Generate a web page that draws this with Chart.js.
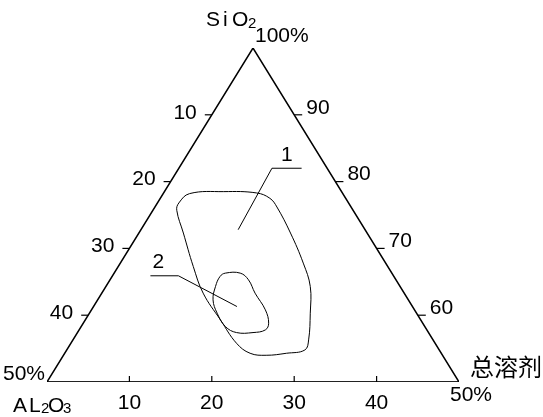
<!DOCTYPE html>
<html>
<head>
<meta charset="utf-8">
<script src="https://cdn.jsdelivr.net/npm/chart.js@4.4.0/dist/chart.umd.min.js"></script>
<style>
  html, body { margin: 0; padding: 0; background: #fff; }
  #wrap { width: 543px; height: 417px; }
</style>
</head>
<body>
<div id="wrap"><canvas id="chart" width="543" height="417"></canvas></div>
<script>
// ternary: SiO2 50-100 %, 总溶剂 0-50 %, AL2O3 is the rest
const leftTicks = [10, 20, 30, 40];    // AL2O3
const rightTicks = [90, 80, 70, 60];   // SiO2
const bottomTicks = [10, 20, 30, 40];  // 总溶剂

// zone 1 (outer), points as SiO2 / 总溶剂
const zone1SiO2 = [76.8, 78.2, 78.5, 78.3, 77.5, 76.2, 72.3, 67.8, 64.3, 60.3, 56.3, 54.8, 54.3, 54.0, 54.3, 55.8, 59.3, 63.3, 67.3, 72.3, 75.7];
const zone1Flux = [2.6, 3.2, 7.2, 11.3, 13.3, 14.8, 18.4, 22.2, 24.8, 26.8, 28.6, 28.9, 26.9, 24.6, 22.5, 20.1, 16.4, 12.3, 9.1, 5.4, 2.9];

// zone 2 (inner)
const zone2SiO2 = [66.3, 66.3, 65.3, 63.3, 60.8, 58.8, 57.8, 57.4, 57.4, 58.3, 60.3, 62.3, 64.3, 65.8];
const zone2Flux = [13.5, 15.3, 16.8, 18.6, 21.1, 22.5, 22.6, 21.3, 19.3, 17.5, 15.5, 14.0, 13.3, 13.1];

// leader lines and their labels
const leader1SiO2 = [82.0, 82.0, 72.8];
const leader1Flux = [14.9, 11.3, 11.8];
const leader2SiO2 = [65.9, 65.9, 61.3];
const leader2Flux = [4.6, 8.0, 17.4];
const zoneLabels = [
  { text: '1', s: 84.0, f: 12.1 },
  { text: '2', s: 68.0, f: 4.5 }
];

function toXY(s, f) {
  return { x: f + (s - 50) / 2, y: s - 50 };
}

function pathPoints(sArr, fArr) {
  return sArr.map((s, i) => toXY(s, fArr[i]));
}

// closed smooth curve: pad with neighbours, hide the padding segments
function loopPoints(sArr, fArr) {
  const pts = pathPoints(sArr, fArr);
  const n = pts.length;
  return [pts[n - 1], ...pts, pts[0], pts[1]];
}

function loopDataset(sArr, fArr) {
  const data = loopPoints(sArr, fArr);
  const len = data.length;
  return {
    data: data,
    showLine: true,
    tension: 0.4,
    borderColor: '#000',
    borderWidth: 1,
    pointRadius: 0,
    segment: {
      borderColor: ctx => (ctx.p0DataIndex === 0 || ctx.p0DataIndex === len - 2) ? 'rgba(0,0,0,0)' : '#000'
    }
  };
}

function plainDataset(points, width, color) {
  return {
    data: points,
    showLine: true,
    tension: 0,
    borderColor: color,
    borderWidth: width,
    pointRadius: 0
  };
}

const FONT = '"Liberation Sans", Arial, sans-serif';
const BIG = '21px ' + FONT;
const SMALL = '15px ' + FONT;

const ternaryText = {
  id: 'ternaryText',
  afterDraw(chart) {
    const ctx = chart.ctx;
    const xs = chart.scales.x;
    const ys = chart.scales.y;
    const px = (s, f) => {
      const p = toXY(s, f);
      return { x: xs.getPixelForValue(p.x), y: ys.getPixelForValue(p.y) };
    };
    ctx.save();
    ctx.strokeStyle = '#000';
    ctx.fillStyle = '#000';
    ctx.lineWidth = 1.2;
    ctx.font = BIG;
    ctx.textBaseline = 'middle';

    // left edge (AL2O3)
    ctx.textAlign = 'right';
    leftTicks.forEach(a => {
      const p = px(100 - a, 0);
      ctx.beginPath();
      ctx.moveTo(p.x - 7, p.y);
      ctx.lineTo(p.x, p.y);
      ctx.stroke();
      ctx.fillText(String(a), p.x - 15, p.y - 2);
    });

    // right edge (SiO2)
    ctx.textAlign = 'left';
    rightTicks.forEach(s => {
      const p = px(s, 100 - s);
      ctx.beginPath();
      ctx.moveTo(p.x, p.y);
      ctx.lineTo(p.x + 8, p.y);
      ctx.stroke();
      ctx.fillText(String(s), p.x + 12, p.y - 7);
    });

    // bottom edge (总溶剂)
    ctx.textAlign = 'center';
    bottomTicks.forEach(f => {
      const p = px(50, f);
      ctx.beginPath();
      ctx.moveTo(p.x, p.y);
      ctx.lineTo(p.x, p.y - 6);
      ctx.stroke();
      ctx.fillText(String(f), p.x, p.y + 21);
    });

    // zone labels
    zoneLabels.forEach(l => {
      const p = px(l.s, l.f);
      ctx.fillText(l.text, p.x, p.y);
    });

    // corners
    const top = px(100, 0);
    const bl = px(50, 0);
    const br = px(50, 50);

    ctx.textAlign = 'left';
    ctx.textBaseline = 'alphabetic';
    ctx.fillText('100%', top.x + 2, top.y - 6);
    ctx.fillText('S', top.x - 47, top.y - 22);
    ctx.fillText('i', top.x - 30, top.y - 22);
    ctx.fillText('O', top.x - 21, top.y - 22);
    ctx.font = SMALL;
    ctx.fillText('2', top.x - 5, top.y - 20);

    ctx.font = BIG;
    ctx.textAlign = 'right';
    ctx.fillText('50%', bl.x - 2, bl.y - 2);
    ctx.textAlign = 'left';
    ctx.fillText('50%', br.x - 9, br.y + 19);

    // AL2O3
    const y = bl.y + 30;
    ctx.fillText('A', bl.x - 34, y);
    ctx.fillText('L', bl.x - 18, y);
    ctx.font = SMALL;
    ctx.fillText('2', bl.x - 6, y + 1);
    ctx.font = BIG;
    ctx.fillText('O', bl.x + 1, y);
    ctx.font = SMALL;
    ctx.fillText('3', bl.x + 16, y + 1);

    ctx.textBaseline = 'middle';
    ctx.font = '24px "Noto Sans CJK SC", sans-serif';
    ctx.fillText('总溶剂', br.x + 11, br.y - 15);
    ctx.restore();
  }
};

const triangle = [toXY(50, 0), toXY(100, 0), toXY(50, 50)];
const baseLine = [toXY(50, 0), toXY(50, 50)];

new Chart(document.getElementById('chart'), {
  type: 'scatter',
  data: {
    datasets: [
      plainDataset(triangle, 1.5, '#000'),
      plainDataset(baseLine, 2, '#222'),
      loopDataset(zone1SiO2, zone1Flux),
      loopDataset(zone2SiO2, zone2Flux),
      plainDataset(pathPoints(leader1SiO2, leader1Flux), 1, '#000'),
      plainDataset(pathPoints(leader2SiO2, leader2Flux), 1, '#000')
    ]
  },
  options: {
    responsive: false,
    devicePixelRatio: 1,
    animation: false,
    layout: { padding: { left: 47, right: 84, top: 48, bottom: 35 } },
    scales: {
      x: { type: 'linear', min: 0, max: 50, display: false },
      y: { type: 'linear', min: 0, max: 50, display: false }
    },
    plugins: {
      legend: { display: false },
      tooltip: { enabled: false }
    }
  },
  plugins: [ternaryText]
});
</script>
</body>
</html>
